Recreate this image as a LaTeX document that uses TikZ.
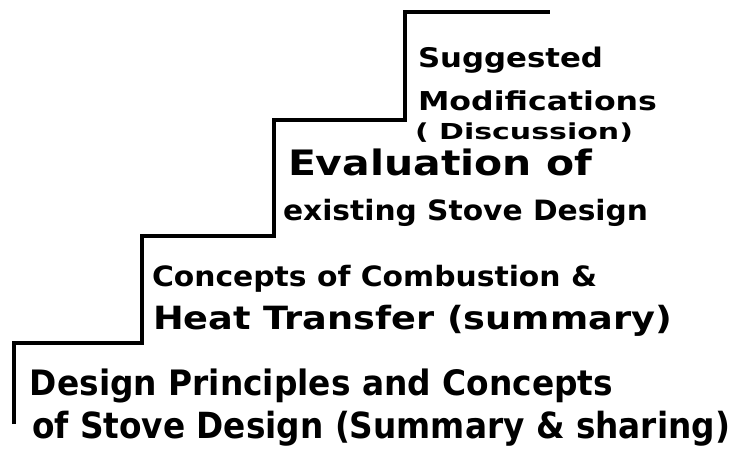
\documentclass[tikz,border=0pt]{standalone}
\usepackage{fontspec}
\setmainfont{DejaVu Sans}
\usepackage{graphicx}
\newcommand{\fitline}[3]{{\fontsize{#1}{#1}\selectfont\bfseries\resizebox{#2pt}{\height}{#3}}}
\begin{document}
\begin{tikzpicture}[x=1pt,y=-1pt,
  stair/.style={line width=3.2pt, line join=miter, line cap=butt},
  lbl/.style={anchor=base west, inner sep=0pt, outer sep=0pt}]
\useasboundingbox[fill=white] (0,0) rectangle (738,458);
% staircase
\draw[stair] (14,424) -- (14,343) -- (142,343) -- (142,236) -- (274,236)
  -- (274,120) -- (405,120) -- (405,12) -- (550,12);
% step 4
\node[lbl] (s4a) at (418,67)  {\fitline{27}{185}{Suggested}};
\node[lbl] (s4b) at (418,110) {\fitline{26}{239}{Modifications}};
\node[lbl] (s4c) at (415,139) {\fitline{22}{218}{( Discussion)}};
% step 3
\node[lbl] (s3a) at (288,175) {\fitline{35}{304}{Evaluation of}};
\node[lbl] (s3b) at (283,220) {\fitline{28}{365}{existing Stove Design}};
% step 2
\node[lbl] (s2a) at (152,286) {\fitline{28}{445}{Concepts of Combustion \&}};
\node[lbl] (s2b) at (153,329) {\fitline{32}{519}{Heat Transfer (summary)}};
% step 1
\node[lbl] (s1a) at (30,395)  {\fitline{35}{583}{Design Principles and Concepts}};
\node[lbl] (s1b) at (32,438)  {\fitline{36}{698}{of Stove Design (Summary \& sharing)}};
\end{tikzpicture}
\end{document}
